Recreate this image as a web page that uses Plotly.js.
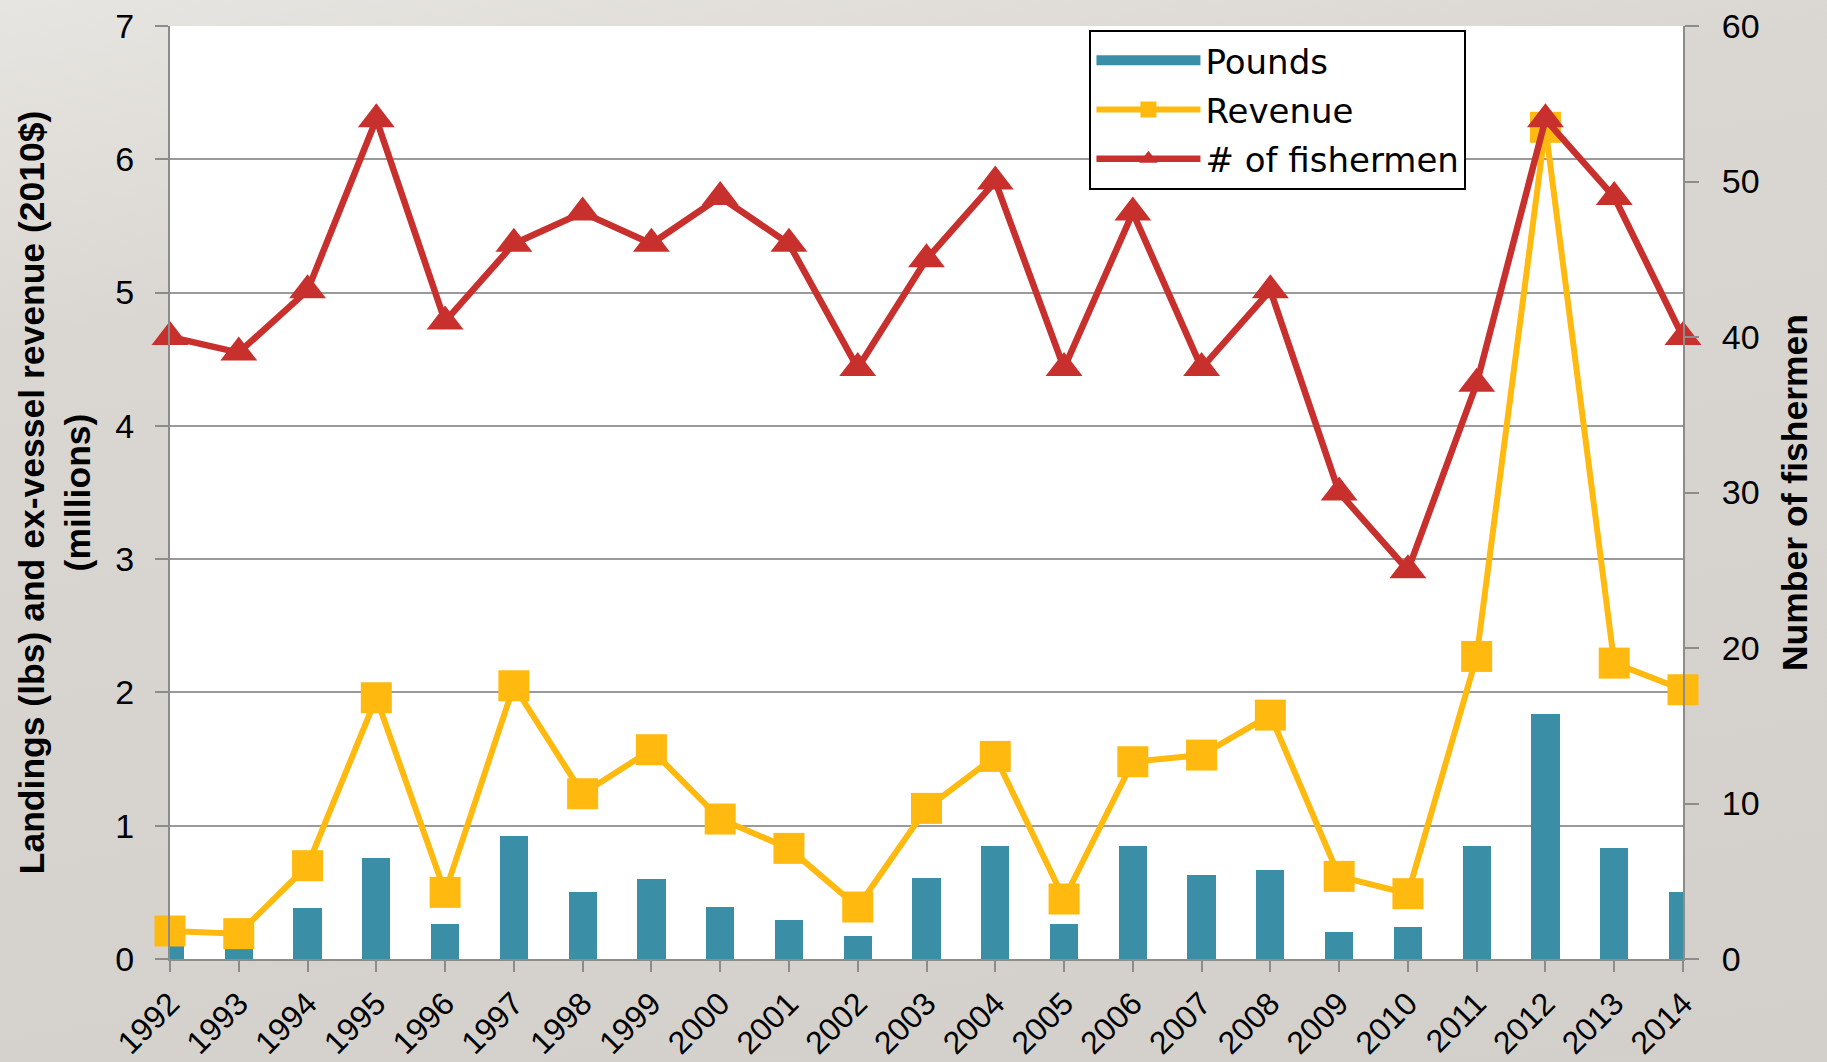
<!DOCTYPE html>
<html>
<head>
<meta charset="utf-8">
<script src="https://cdn.plot.ly/plotly-3.0.1.min.js"></script>
<style>
html,body{margin:0;padding:0;overflow:hidden;}
body{width:1827px;height:1062px;background:linear-gradient(170deg,#e7e5e1 0%,#dad7d2 25%,#d3d0cb 100%);}
#chart{width:1827px;height:1062px;}
</style>
</head>
<body>
<div id="chart"></div>
<script>
const years = [1992,1993,1994,1995,1996,1997,1998,1999,2000,2001,2002,2003,2004,2005,2006,2007,2008,2009,2010,2011,2012,2013,2014];
const yearLabels = years.map(String);
const pounds = [0.17,0.15,0.38,0.76,0.26,0.92,0.50,0.60,0.39,0.29,0.17,0.61,0.85,0.26,0.85,0.63,0.67,0.20,0.24,0.85,1.84,0.83,0.50];
const revenue = [0.21,0.19,0.70,1.96,0.50,2.05,1.24,1.57,1.05,0.83,0.39,1.13,1.52,0.45,1.48,1.53,1.83,0.62,0.49,2.27,6.24,2.22,2.02];
const fishermen = [40,39,43,54,41,46,48,46,49,46,38,45,50,38,48,38,43,30,25,37,54,49,40];
const leftTicks = [0,1,2,3,4,5,6,7];
const rightTicks = [0,10,20,30,40,50,60];

const tealColor = '#3a8fa7';
const tickFont = {family: 'Liberation Sans, Arial, sans-serif', size: 34, color: '#000'};
const xTickFont = {family: 'Liberation Sans, Arial, sans-serif', size: 32, color: '#000'};
const titleFont = {family: 'Liberation Sans, Arial, sans-serif', size: 35.5, color: '#000', weight: 'bold'};

const traces = [
  {
    type: 'bar', name: 'Pounds', x: years, y: pounds, width: 0.41,
    marker: {color: tealColor}, showlegend: false, yaxis: 'y'
  },
  {
    type: 'scatter', mode: 'lines', name: 'Pounds', x: [null], y: [null],
    line: {color: tealColor, width: 10}, legendgroup: 'a', yaxis: 'y', hoverinfo: 'skip'
  },
  {
    type: 'scatter', mode: 'lines+markers', name: 'Revenue', x: years, y: revenue,
    line: {color: '#ffb90f', width: 6},
    marker: {symbol: 'square', size: 31, color: '#ffb90f'},
    cliponaxis: false, legendgroup: 'b', yaxis: 'y'
  },
  {
    type: 'scatter', mode: 'lines+markers', name: '# of fishermen', x: years, y: fishermen,
    line: {color: '#c8302e', width: 6.5},
    marker: {symbol: 'triangle-up', size: 32, color: '#c8302e'},
    cliponaxis: false, legendgroup: 'c', yaxis: 'y2'
  }
];

const layout = {
  width: 1827, height: 1062,
  margin: {l: 170, r: 144, t: 26, b: 103},
  paper_bgcolor: 'rgba(0,0,0,0)',
  plot_bgcolor: '#ffffff',
  showlegend: true,
  bargap: 0,
  xaxis: {
    type: 'linear', range: [1992, 2014],
    tickvals: years, ticktext: yearLabels,
    tickangle: -45, tickfont: xTickFont,
    ticks: 'outside', ticklen: 11, tickwidth: 2, tickcolor: '#8c8c8c',
    ticklabelstandoff: 0,
    showline: true, linecolor: '#8c8c8c', linewidth: 2,
    showgrid: false, zeroline: false, fixedrange: true, automargin: false
  },
  yaxis: {
    range: [0, 7], tickvals: leftTicks,
    tickfont: tickFont,
    ticks: 'outside', ticklen: 13, tickwidth: 2, tickcolor: '#8c8c8c',
    ticklabelstandoff: 14,
    showline: true, linecolor: '#8c8c8c', linewidth: 2,
    showgrid: true, gridcolor: '#9a9a9a', gridwidth: 2,
    zeroline: false,
    title: {text: 'Landings (lbs) and ex-vessel revenue (2010$)<br>(millions)', font: titleFont, standoff: 14},
    automargin: 'left'
  },
  yaxis2: {
    overlaying: 'y', side: 'right',
    range: [0, 60], tickvals: rightTicks,
    tickfont: tickFont,
    ticks: 'outside', ticklen: 14, tickwidth: 2, tickcolor: '#8c8c8c',
    ticklabelstandoff: 16,
    showline: true, linecolor: '#8c8c8c', linewidth: 2,
    showgrid: false, zeroline: false,
    title: {text: 'Number of fishermen', font: titleFont, standoff: 24},
    automargin: 'right'
  },
  legend: {
    x: 0.6077, y: 0.996, xanchor: 'left', yanchor: 'top',
    bgcolor: '#ffffff', bordercolor: '#000000', borderwidth: 2,
    font: {family: 'DejaVu Sans, sans-serif', size: 34, color: '#000'},
    itemwidth: 104, traceorder: 'grouped', tracegroupgap: 2
  }
};

Plotly.newPlot('chart', traces, layout, {staticPlot: true, displayModeBar: false});
</script>
</body>
</html>
